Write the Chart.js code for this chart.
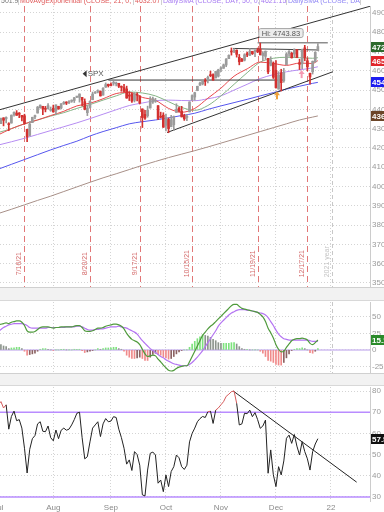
<!DOCTYPE html>
<html>
<head>
<meta charset="utf-8">
<script src="https://cdn.jsdelivr.net/npm/chart.js@4.4.1/dist/chart.umd.min.js"></script>
<style>
  body { margin: 0; width: 384px; height: 512px; overflow: hidden; background: #fff; position: relative; font-family: "Liberation Sans", Arial, sans-serif; }
  canvas { position: absolute; left: 0; }
  .strip { position: absolute; left: 0; width: 384px; background: #f2f2f2; border-top: 1px solid #d0d0d0; border-bottom: 1px solid #d8d8d8; box-sizing: border-box; }
  #head { position: absolute; left: 0; top: -4px; width: 384px; height: 9px; font-size: 7px; line-height: 9px; white-space: nowrap; }
  #head span { position: absolute; top: 0; height: 9px; border-right: 1px solid #d0d0d0; padding-left: 1px; overflow: hidden; }
</style>
</head>
<body>
<canvas id="price" width="384" height="288" style="top:0"></canvas>
<div class="strip" style="top:287px;height:14px"></div>
<canvas id="macd" width="384" height="73" style="top:301px"></canvas>
<div class="strip" style="top:373px;height:13px"></div>
<canvas id="rsi" width="384" height="126" style="top:386px"></canvas>
<div id="head">
  <span style="left:0;width:17px;color:#777">501.9</span>
  <span style="left:19px;width:113px;color:#e05a5a">MovAvgExponential (CLOSE, 21, 0, no)</span>
  <span style="left:134px;width:26px;color:#e05a5a">4632.07</span>
  <span style="left:162px;width:96px;color:#a77bf2">DailySMA (CLOSE, DAY, 50, 0, no)</span>
  <span style="left:260px;width:25px;color:#a77bf2">4621.15</span>
  <span style="left:287px;width:72px;color:#8f86f5">DailySMA (CLOSE, DAY, ...</span>
</div>
<script>
// SPX daily bars, Jul 1 - Dec 23 2021
const dates = ['7/1','7/2','7/6','7/7','7/8','7/9','7/12','7/13','7/14','7/15','7/16','7/19','7/20','7/21','7/22','7/23','7/26','7/27','7/28','7/29','7/30',
  '8/2','8/3','8/4','8/5','8/6','8/9','8/10','8/11','8/12','8/13','8/16','8/17','8/18','8/19','8/20','8/23','8/24','8/25','8/26','8/27','8/30','8/31',
  '9/1','9/2','9/3','9/7','9/8','9/9','9/10','9/13','9/14','9/15','9/16','9/17','9/20','9/21','9/22','9/23','9/24','9/27','9/28','9/29','9/30',
  '10/1','10/4','10/5','10/6','10/7','10/8','10/11','10/12','10/13','10/14','10/15','10/18','10/19','10/20','10/21','10/22','10/25','10/26','10/27','10/28','10/29',
  '11/1','11/2','11/3','11/4','11/5','11/8','11/9','11/10','11/11','11/12','11/15','11/16','11/17','11/18','11/19','11/22','11/23','11/24','11/26','11/29','11/30',
  '12/1','12/2','12/3','12/6','12/7','12/8','12/9','12/10','12/13','12/14','12/15','12/16','12/17','12/20','12/21','12/22','12/23'];

const opens = [4300,4326,4356,4351,4321,4329,4373,4381,4381,4369,4367,4297,4265,4331,4361,4381,4409,4416,4402,4403,4395,
  4406,4392,4416,4407,4429,4438,4435,4442,4446,4464,4462,4462,4440,4383,4410,4450,4484,4490,4493,4474,4515,4530,
  4528,4535,4532,4535,4518,4513,4506,4474,4479,4447,4477,4469,4402,4374,4367,4407,4438,4442,4419,4362,4370,
  4317,4348,4310,4320,4384,4406,4391,4368,4358,4387,4448,4464,4498,4525,4532,4546,4553,4578,4580,4563,4572,
  4610,4613,4630,4663,4700,4701,4707,4670,4659,4655,4689,4680,4701,4700,4708,4712,4679,4675,4664,4628,4640,
  4602,4505,4589,4548,4631,4690,4691,4687,4710,4642,4636,4719,4652,4587,4595,4646,4704];
const highs = [4320.7,4355.4,4356.5,4361.9,4330.9,4371.6,4386.7,4393.7,4383.5,4369,4375,4297,4336.8,4359.7,4369.9,4415.2,4422.7,4416,4415.5,4429.9,4412.3,
  4422.2,4423.8,4416.2,4429.8,4440.8,4439.7,4445.2,4449.4,4461.8,4468,4480.3,4462,4454.3,4418.6,4444.4,4489.9,4492.8,4501.7,4495.9,4513.3,4537.4,4531.4,
  4537.1,4545.9,4541.5,4535.4,4521.8,4529.9,4520.5,4492,4485.7,4486.9,4485.9,4471.5,4402.9,4394.9,4416.8,4465.4,4463.1,4457.3,4419.5,4385.6,4382.6,
  4375.2,4355.5,4369.2,4365.6,4429,4412,4415.9,4374.9,4372.9,4439.7,4475.8,4488.8,4520.4,4540.9,4551.4,4559.7,4572.6,4598.5,4584.6,4597.6,4608.1,
  4620.3,4635.2,4663.5,4683,4718.5,4714.9,4708.5,4684.9,4664.6,4688.5,4697.4,4714.9,4701.5,4708.8,4717.8,4743.83,4699.4,4702.9,4664.6,4672.9,4646,
  4652.9,4595.5,4608,4612.6,4694,4705.1,4695.3,4713.6,4710.3,4660,4712.6,4732,4666.7,4587.9,4651.1,4697.7,4740.7];
const lows = [4300,4326,4314.4,4329.8,4289.4,4329,4365,4368.7,4356.9,4340.7,4322.5,4233.1,4262,4331,4350.1,4381,4405.5,4372.5,4387,4403,4389.9,
  4384.8,4373,4400.2,4403,4425.9,4424.7,4430,4436.4,4435.5,4460.1,4437.7,4417.8,4397.6,4367.7,4406.8,4450,4482.7,4485.7,4468.9,4474,4513.8,4515.8,
  4522,4524.7,4521.7,4513,4493.9,4492.1,4457.7,4445.7,4435.5,4438.4,4443.8,4427.8,4305.9,4347.9,4359.3,4406.8,4430.3,4436.2,4346.3,4355.1,4306.4,
  4288.5,4278.9,4309.9,4290.5,4383.7,4386.2,4360.6,4342.9,4341.7,4386.9,4447.7,4447.5,4496.4,4524.4,4526.9,4524,4537.4,4569.2,4551.7,4562.8,4567.6,
  4595,4613,4621.2,4662.6,4681.3,4694.4,4670.9,4630.9,4648.3,4651,4672.9,4679.5,4684.4,4672.8,4694.2,4682.2,4652.7,4659.9,4585.4,4625.3,4560,
  4510.3,4504.7,4495.1,4540.5,4631,4674.5,4666,4670.2,4667.6,4606.5,4611.2,4651.9,4600.2,4531.1,4583.2,4645.5,4703.9];
const closes = [4319.9,4352.3,4343.5,4358.1,4320.8,4369.6,4384.6,4369.2,4374.3,4360,4327.2,4258.5,4323.1,4358.7,4367.5,4411.8,4422.3,4401.5,4400.6,4419.2,4395.3,
  4387.2,4423.2,4402.7,4429.1,4436.5,4432.4,4436.8,4447.7,4460.8,4468,4479.7,4448.1,4400.3,4405.8,4441.7,4479.5,4486.2,4496.2,4470,4509.4,4528.8,4522.7,
  4524.1,4537,4535.4,4520,4514.1,4493.3,4458.6,4468.7,4443.1,4480.7,4473.8,4433,4357.7,4354.2,4395.6,4449,4455.5,4443.1,4352.6,4359.5,4307.5,
  4357,4300.5,4345.7,4363.6,4399.8,4391.3,4361.2,4350.7,4363.8,4438.3,4471.4,4486.5,4519.6,4536.2,4549.8,4544.9,4566.5,4574.8,4551.7,4596.4,4605.4,
  4613.7,4630.7,4660.6,4680.1,4697.5,4701.7,4685.3,4646.7,4649.3,4682.9,4682.8,4700.9,4688.7,4704.5,4698,4682.9,4690.7,4701.5,4594.6,4655.3,4567,
  4513,4577.1,4538.4,4591.7,4686.8,4701.2,4667.5,4712,4669,4634.1,4709.9,4668.7,4620.6,4568,4649.2,4696.6,4725.79];

// moving averages, one reading per week
const maIdx  = [0,5,10,15,20,25,30,35,40,45,50,55,60,65,70,75,80,85,90,95,100,105,110,115,120,122];
const ema21  = [4268,4300,4325,4345,4368,4390,4418,4432,4455,4482,4488,4462,4447,4405,4385,4405,4458,4510,4572,4610,4645,4638,4628,4640,4638,4652.67];
const sma21  = [4280,4300,4325,4345,4365,4383,4405,4425,4448,4470,4490,4485,4470,4440,4410,4395,4420,4470,4530,4590,4645,4665,4670,4668,4665,4668];
const sma50  = [4215,4232,4250,4270,4290,4310,4330,4352,4375,4398,4420,4433,4445,4448,4446,4445,4455,4470,4500,4530,4560,4580,4595,4605,4615,4621];
const sma100 = [4090,4115,4140,4165,4190,4213,4235,4262,4285,4305,4325,4336,4345,4356,4368,4380,4400,4418,4435,4452,4470,4487,4505,4520,4535,4540];
const sma200 = [3860,3882,3905,3928,3950,3974,3998,4022,4045,4066,4088,4110,4130,4150,4168,4186,4205,4225,4245,4265,4285,4305,4325,4345,4360,4366];

const macdLine = [38,39,40,41,40,42,43,44,44,42,37,29,27,27,28,31,34,35,35,35,34,
  33,34,34,35,35,35,35,35,36,37,37,34,29,28,28,29,31,33,33,34,36,37,
  38,39,39,38,36,32,25,20,16,14,12,8,1,-6,-10,-9,-8,-9,-14,-18,-23,
  -27,-31,-32,-31,-28,-26,-25,-24,-24,-18,-10,-2,6,14,22,27,32,36,39,43,47,
  51,55,59,63,67,69,69,66,63,62,61,60,59,58,57,54,50,43,33,26,18,
  8,1,-3,-2,4,9,14,16,17,17,18,17,15,10,8,11,15.1];
const macdAvg = [28,31,34,36,38,39,40,40,40,40,39,37,34,33,33,33,33,33,33,34,34,
  34,34,34,34,34,35,35,35,35,36,36,35,33,31,30,30,31,31,32,32,33,34,
  35,35,35,36,35,34,33,31,29,27,24,19,14,10,6,2,-1,-4,-7,-10,-12,
  -15,-17,-19,-21,-22,-23,-24,-24,-24,-22,-19,-15,-11,-6,-1,5,11,17,23,29,36,
  41,45,49,53,56,58,60,61,61,61,60,60,59,58,57,56,55,53,49,43,37,
  30,24,20,17,16,15,15,15,15,15,15,15,15,14,13,13,13];
const macdHist = [10,8,6,5,2,3,3,4,4,2,-2,-8,-7,-6,-5,-2,1,2,2,1,0,
  -1,0,0,1,1,0,0,0,1,1,1,-1,-4,-3,-2,-1,0,2,1,2,3,3,
  3,4,4,2,1,-2,-8,-11,-13,-13,-12,-11,-13,-16,-16,-11,-7,-5,-7,-8,-11,
  -12,-14,-13,-10,-6,-3,-1,0,0,4,9,13,17,20,23,22,21,19,16,14,11,
  10,10,10,10,11,11,9,5,2,1,1,0,0,0,0,-2,-5,-10,-16,-17,-19,
  -22,-23,-23,-19,-12,-6,-1,1,2,2,3,2,0,-4,-5,-2,2];

const rsi = [73.5,75,72,73.5,62,68,70.5,66,66.5,62.5,53,41.3,52.5,57.5,59,64.5,65.5,61,60.8,63.5,58,
  56.5,61.6,57.5,61.5,62.5,61.5,62,64,66.5,69.5,70,58,48,49,56,62.5,64,65.5,58.5,64.5,67,65.5,
  65.8,67.9,67.5,62,58,53,45.5,47.5,42.5,51.4,50,45,31,30.5,42.7,50.6,51.2,49.8,36.5,38,32.5,
  40.4,34.9,42,44.3,49.8,48.5,44.3,43,45,56,60,62.5,65.5,67,68,67.5,70.2,70.5,64.7,71,72,
  73.5,75,77.5,78.5,79.7,80,74.2,64,64.5,69.5,69.3,71,67.9,69.8,66.5,62.4,63.5,66.3,41.2,52.2,40.5,
  34.9,44.3,40.4,47,57.7,59.2,55.3,59.5,54,49.8,56.1,51.4,48,42.7,51.4,55,57.51];

const priceTicks = [3500,3600,3700,3800,3900,4000,4100,4200,4300,4400,4500,4600,4700,4800,4900];
const macdTicks = [50, 25, 0, -25];
const rsiTicks = [80, 70, 60, 50, 40, 30];
const monthIdx = [0, 21, 43, 64, 85, 106, 127];
const monthLabels = ['Jul', 'Aug', 'Sep', 'Oct', 'Nov', 'Dec', '22'];
const expIdx = [10, 35, 54, 74, 99, 118];
const expLabels = ['7/16/21', '8/20/21', '9/17/21', '10/15/21', '11/19/21', '12/17/21'];
const yearIdx = 127.3;

// drawn trendlines as [bar index, value]
const upperChannel = [[0, 4396], [142, 4935]];
const lowerChannel = [[64.4, 4280], [127.7, 4595]];
const spxLevel = [[42, 4552], [109.4, 4552]];
const hiLevel = [[99, 4745], [125.8, 4745]];
const rangeTop = [[89.6, 4716], [122, 4708]];
const rsiTrend = [[89.7, 80], [136.8, 37]];
const arrowMarks = [[106.4, 4478], [115.8, 4588]];

const X_MIN = 0.65, X_MAX = 141.9;
const UP = '#9b9b9b', DOWN = '#d3302f';
const FONT = 'Liberation Sans';
Chart.defaults.font.family = FONT;

const idx = dates.map((d, i) => i);
const candleColor = idx.map(i => closes[i] >= opens[i] ? UP : DOWN);
const pts = (xs, ys) => xs.map((x, i) => ({ x: x, y: ys[i] }));
const seg = p => p.map(q => ({ x: q[0], y: q[1] }));
const last = a => a[a.length - 1];

function line(data, color, width, order) {
  return { type: 'line', data: data, borderColor: color, borderWidth: width || 1, pointRadius: 0,
    fill: false, order: order || 5, cubicInterpolationMode: 'monotone' };
}

function xAxis(showLabels) {
  return {
    type: 'linear', min: X_MIN, max: X_MAX, offset: false,
    afterBuildTicks: s => { s.ticks = monthIdx.map(v => ({ value: v })); },
    afterFit: s => { s.height = showLabels ? 11 : 0; s.paddingLeft = 0; s.paddingRight = 0; },
    grid: { color: '#d4d4d4', drawTicks: false, offset: false },
    border: { display: false, dash: [1, 2] },
    ticks: { display: showLabels, autoSkip: false, maxRotation: 0, padding: 2, color: '#8a8a8a',
      font: { size: 8 }, callback: (v, i) => monthLabels[i] }
  };
}

function yAxis(min, max, ticks) {
  return {
    position: 'right', min: min, max: max,
    afterBuildTicks: s => { s.ticks = ticks.map(v => ({ value: v })); },
    afterFit: s => { s.width = 14; s.paddingTop = 0; s.paddingBottom = 0; },
    grid: { color: '#d4d4d4', drawTicks: false },
    border: { display: true, color: '#cccccc', dash: [1, 2] },
    ticks: { padding: 2, color: '#9a9a9a', font: { size: 8 }, callback: v => String(v) }
  };
}

function vline(chart, v, color, dash) {
  const { ctx, chartArea: a, scales: { x } } = chart;
  const px = Math.round(x.getPixelForValue(v)) + 0.5;
  ctx.save();
  ctx.strokeStyle = color;
  ctx.lineWidth = 1;
  ctx.setLineDash(dash);
  ctx.beginPath();
  ctx.moveTo(px, a.top);
  ctx.lineTo(px, a.bottom);
  ctx.stroke();
  ctx.restore();
  return px;
}

function sideText(chart, px, py, text, color) {
  const ctx = chart.ctx;
  ctx.save();
  ctx.translate(px - 2, py);
  ctx.rotate(-Math.PI / 2);
  ctx.font = '7px ' + FONT;
  ctx.fillStyle = color;
  ctx.textAlign = 'center';
  ctx.textBaseline = 'bottom';
  ctx.fillText(text, 0, 0);
  ctx.restore();
}

function drawTag(chart, value, text, bg) {
  const { ctx, chartArea: a, scales: { y } } = chart;
  const py = Math.round(y.getPixelForValue(value));
  ctx.save();
  ctx.fillStyle = bg;
  ctx.fillRect(a.right + 1, py - 5, 20, 10);
  ctx.fillStyle = '#fff';
  ctx.font = 'bold 8px ' + FONT;
  ctx.textBaseline = 'middle';
  ctx.fillText(text, a.right + 2, py + 0.5);
  ctx.restore();
}

const pricePlugin = {
  id: 'priceMarks',
  beforeDatasetsDraw(chart) {
    const y = chart.scales.y;
    expIdx.forEach((v, i) => {
      const px = vline(chart, v, 'rgba(221,95,95,0.85)', [6, 4]);
      sideText(chart, px, y.getPixelForValue(3600), expLabels[i], '#d46a6a');
    });
    const px = vline(chart, yearIdx, '#c8c8c8', [4, 3]);
    sideText(chart, px, y.getPixelForValue(3610), '2021 year', '#c4c4c4');
  },
  afterDatasetsDraw(chart) {
    const { ctx, scales: { x, y } } = chart;
    ctx.save();
    // Hi label above the Nov 22 bar
    const hx = x.getPixelForValue(100) - 2;
    const hy = y.getPixelForValue(highs[100]) - 5;
    ctx.font = '7.5px ' + FONT;
    const w = ctx.measureText('Hi: 4743.83').width + 6;
    ctx.fillStyle = '#ececec';
    ctx.strokeStyle = '#a8a8a8';
    ctx.beginPath();
    ctx.roundRect(hx + 0.5, hy - 9.5, w, 9, 2);
    ctx.fill();
    ctx.stroke();
    ctx.fillStyle = '#555';
    ctx.textBaseline = 'middle';
    ctx.fillText('Hi: 4743.83', hx + 3.5, hy - 4.5);
    // SPX tag
    const sx = x.getPixelForValue(32.2), sy = y.getPixelForValue(4585);
    ctx.fillStyle = '#333';
    ctx.beginPath();
    ctx.moveTo(sx, sy); ctx.lineTo(sx + 4, sy - 3.5); ctx.lineTo(sx + 4, sy + 3.5); ctx.closePath();
    ctx.fill();
    ctx.fillStyle = '#555';
    ctx.font = '8px ' + FONT;
    ctx.fillText('SPX', sx + 5, sy + 0.5);
    // arrows
    const colors = ['#f0a13a', '#f59ab2'];
    arrowMarks.forEach((m, i) => {
      const ax = x.getPixelForValue(m[0]), ay = y.getPixelForValue(m[1]);
      ctx.fillStyle = colors[i];
      ctx.strokeStyle = colors[i];
      ctx.beginPath();
      ctx.moveTo(ax, ay - 3); ctx.lineTo(ax + 3, ay + 1); ctx.lineTo(ax - 3, ay + 1); ctx.closePath();
      ctx.fill();
      ctx.lineWidth = 2;
      ctx.beginPath();
      ctx.moveTo(ax, ay); ctx.lineTo(ax, ay + 5);
      ctx.stroke();
    });
    ctx.restore();
  },
  afterDraw(chart) {
    drawTag(chart, last(sma200), last(sma200).toFixed(2), '#6b4528');
    drawTag(chart, last(sma100), last(sma100).toFixed(2), '#1c1cf0');
    drawTag(chart, last(ema21), last(ema21).toFixed(2), '#e0262b');
    drawTag(chart, last(closes), last(closes).toFixed(2), '#2d6a2d');
  }
};

new Chart(document.getElementById('price'), {
  type: 'bar',
  data: {
    datasets: [
      { type: 'bar', data: idx.map(i => ({ x: i, y: [opens[i], closes[i]] })), backgroundColor: candleColor,
        barThickness: 2, grouped: false, minBarLength: 1, order: 1 },
      { type: 'bar', data: idx.map(i => ({ x: i, y: [lows[i], highs[i]] })), backgroundColor: candleColor,
        barThickness: 1, grouped: false, order: 2 },
      line(seg(upperChannel), '#333', 1, 3),
      line(seg(lowerChannel), '#333', 1, 3),
      line(seg(spxLevel), '#333', 1, 3),
      line(seg(hiLevel), '#555', 1, 3),
      line(seg(rangeTop), '#444', 1, 3),
      line(pts(maIdx, ema21), '#e8484c', 1, 4),
      line(pts(maIdx, sma21), '#86b486', 1, 5),
      line(pts(maIdx, sma50), '#b68cf2', 1, 6),
      line(pts(maIdx, sma100), '#5656ee', 1, 7),
      line(pts(maIdx, sma200), '#a89088', 1, 8)
    ]
  },
  options: {
    responsive: false, animation: false, devicePixelRatio: 1, events: [],
    layout: { padding: { top: 6, bottom: 1, left: 0, right: 0 } },
    plugins: { legend: { display: false }, tooltip: { enabled: false } },
    scales: { x: xAxis(false), y: yAxis(3479, 4936, priceTicks) }
  },
  plugins: [pricePlugin]
});

const histColor = macdHist.map((h, i) => {
  const prev = i ? macdHist[i - 1] : h;
  if (h >= 0) return h >= prev ? '#7ee27e' : '#8c948c';
  return h <= prev ? '#f08a8a' : '#8c6262';
});

new Chart(document.getElementById('macd'), {
  type: 'bar',
  data: {
    datasets: [
      line(pts(idx, macdLine), '#4f9a3c', 1.2, 1),
      line(pts(idx, macdAvg), '#b474f2', 1.2, 2),
      { type: 'bar', data: pts(idx, macdHist), backgroundColor: histColor, barThickness: 1, grouped: false, order: 4 },
      line(seg([[X_MIN, 0], [X_MAX, 0]]), '#cfbdf0', 1.5, 9)
    ]
  },
  options: {
    responsive: false, animation: false, devicePixelRatio: 1, events: [],
    layout: { padding: { top: 1, bottom: 1, left: 0, right: 0 } },
    plugins: { legend: { display: false }, tooltip: { enabled: false } },
    scales: { x: xAxis(false), y: yAxis(-35, 72.7, macdTicks) }
  },
  plugins: [{
    id: 'macdMarks',
    beforeDatasetsDraw(chart) { vline(chart, yearIdx, '#c8c8c8', [4, 3]); },
    afterDraw(chart) { drawTag(chart, last(macdLine), last(macdLine).toFixed(1), '#2a8a2a'); }
  }]
});

new Chart(document.getElementById('rsi'), {
  type: 'line',
  data: {
    datasets: [
      Object.assign(line(pts(idx, rsi), '#222', 1, 1), {
        cubicInterpolationMode: 'default', tension: 0,
        segment: { borderColor: c => (c.p0.parsed.y >= 70 && c.p1.parsed.y >= 70) ? '#d55a5a' : undefined }
      }),
      line(seg(rsiTrend), '#222', 1, 2),
      line(seg([[X_MIN, 70], [X_MAX, 70]]), '#b98cff', 1.5, 9),
      line(seg([[X_MIN, 30], [X_MAX, 30]]), '#b98cff', 1.5, 9)
    ]
  },
  options: {
    responsive: false, animation: false, devicePixelRatio: 1, events: [],
    layout: { padding: { top: 1, bottom: 0, left: 0, right: 0 } },
    plugins: { legend: { display: false }, tooltip: { enabled: false } },
    scales: { x: xAxis(true), y: yAxis(28.1, 81.9, rsiTicks) }
  },
  plugins: [{
    id: 'rsiMarks',
    afterDraw(chart) { drawTag(chart, last(rsi), last(rsi).toFixed(2), '#111'); }
  }]
});
</script>
</body>
</html>
